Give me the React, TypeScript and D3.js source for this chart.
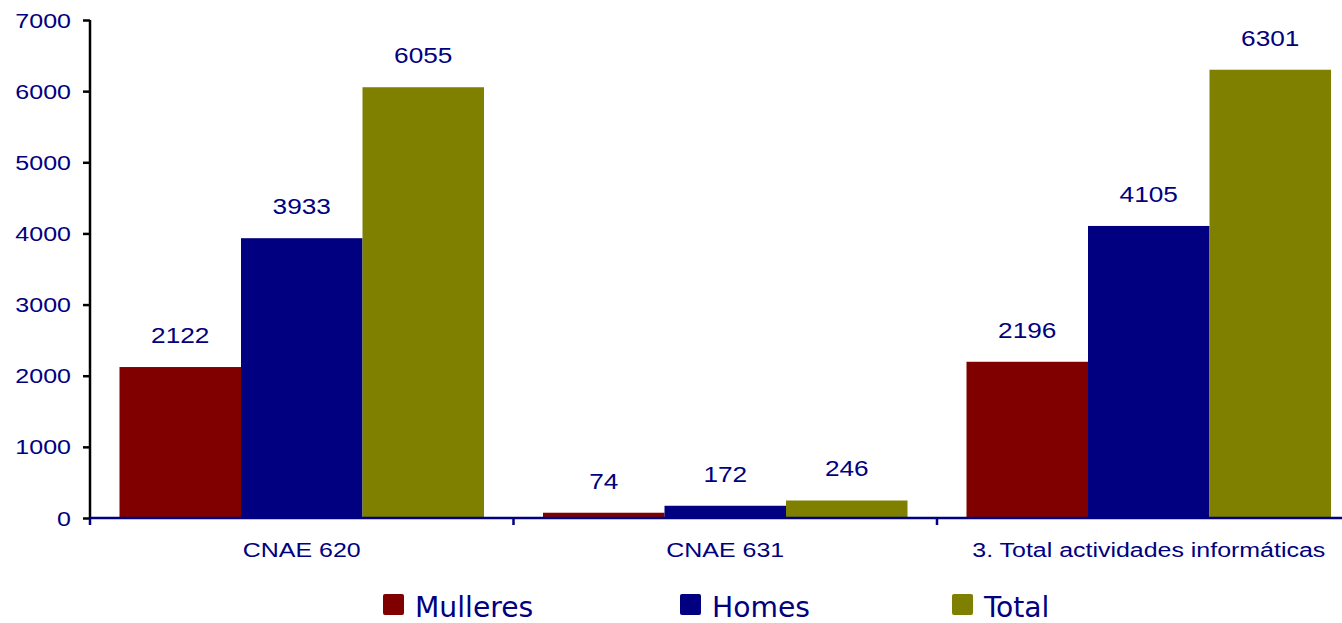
import React, { useEffect, useRef } from "react";
import * as d3 from "d3";

const categories = ["CNAE 620", "CNAE 631", "3. Total actividades informáticas"];
const seriesNames = ["Mulleres", "Homes", "Total"];
const mulleres = [2122, 74, 2196];
const homes = [3933, 172, 4105];
const total = [6055, 246, 6301];
const yTicks = [0, 1000, 2000, 3000, 4000, 5000, 6000, 7000];
const colors = ["#800000", "#000080", "#808000"];

const App = () => {
  const svgRef = useRef<SVGSVGElement>(null);

  useEffect(() => {
    const svg = d3.select(svgRef.current);
    svg.selectAll("*").remove();

    const values = [mulleres, homes, total];
    const left = 90, top = 20, bottom = 518;
    const bandW = 423.5;
    const navy = "#000080";
    const sans = "Liberation Sans, Arial";

    // the original picture is stretched sideways, so text is too
    const label = (tx: number, ty: number, s: string | number, size: number, anchor: string, sx: number, font = sans) =>
      svg.append("text").attr("transform", `translate(${tx},${ty}) scale(${sx},1)`).attr("text-anchor", anchor)
        .style("font-family", font).style("font-size", `${size}px`).attr("fill", navy).text(s);

    const x = d3.scaleBand().domain(categories).range([left, left + bandW * 3]);
    const xs = d3.scaleBand().domain(seriesNames).range([29.5, 29.5 + 364.5]);
    const y = d3.scaleLinear().domain([0, 7000]).range([bottom, top]);

    // bars
    categories.forEach((c, ci) => {
      seriesNames.forEach((s, si) => {
        const v = values[si][ci];
        const bx = (x(c) as number) + (xs(s) as number);
        const bw = xs.bandwidth();
        svg.append("rect").attr("x", bx).attr("y", y(v)).attr("width", bw).attr("height", bottom - y(v)).attr("fill", colors[si]);
        label(bx + bw / 2, y(v) - 24, v, 21.5, "middle", 1.22);
      });
    });

    // y axis
    const yAxis = svg.append("g").attr("transform", `translate(${left},0)`)
      .call(d3.axisLeft(y).tickValues(yTicks).tickSize(7).tickFormat(() => ""));
    yAxis.select(".domain").attr("stroke", "#000").attr("stroke-width", 2.5).attr("d", `M0,${top}V${bottom}`);
    yAxis.selectAll(".tick line").attr("stroke", "#000").attr("stroke-width", 2.5);
    yTicks.forEach((t) => label(71, y(t) + 7.5, t, 20.5, "end", 1.22));

    // x axis
    const xAxis = svg.append("g").attr("transform", `translate(0,${bottom})`);
    xAxis.append("line").attr("x1", left).attr("x2", left + bandW * 3).attr("stroke", navy).attr("stroke-width", 2.5);
    categories.forEach((c) => {
      const bx = x(c) as number;
      xAxis.append("line").attr("x1", bx).attr("x2", bx).attr("y1", 0).attr("y2", 7).attr("stroke", navy).attr("stroke-width", 2.5);
      label(bx + x.bandwidth() / 2, 557, c, 19.5, "middle", 1.28);
    });

    // legend
    const legendX = [383, 680, 952];
    seriesNames.forEach((s, si) => {
      svg.append("rect").attr("x", legendX[si]).attr("y", 594).attr("width", 21).attr("height", 21).attr("rx", 2).attr("fill", colors[si]);
      label(legendX[si] + 32, 617, s, 28, "start", 1.12, "DejaVu Sans Condensed, DejaVu Sans");
    });
  }, []);

  return <svg ref={svgRef} width={1342} height={623} style={{ position: "absolute", left: 0, top: 0, background: "#fff" }}></svg>;
};

export default App;
